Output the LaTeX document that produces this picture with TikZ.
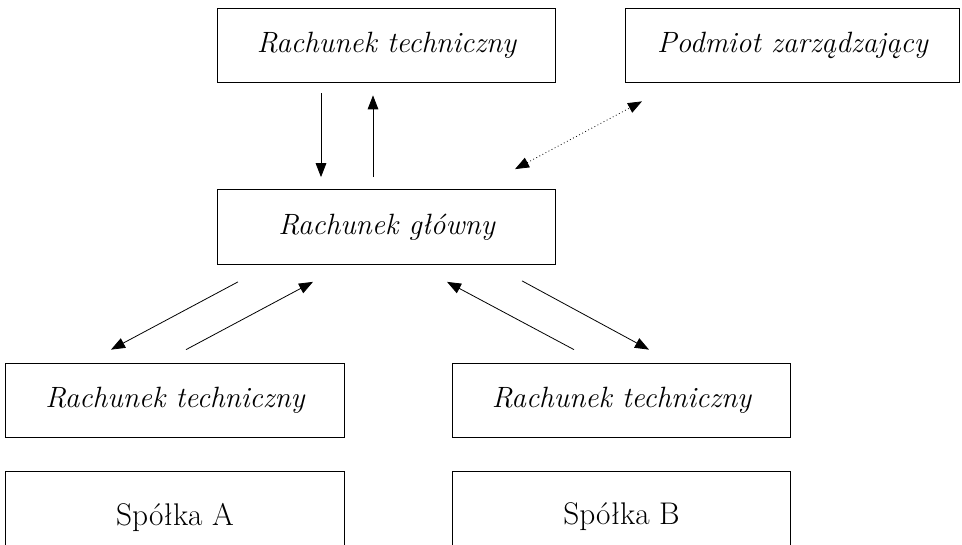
\documentclass[tikz,border=0pt]{standalone}
\usepackage{tikz}
\usetikzlibrary{positioning,arrows.meta,calc}

\tikzset{
  konto/.style={draw, line width=0.8pt, minimum width=254pt, minimum height=56pt, inner sep=0pt, font=\fontsize{22}{26}\selectfont\itshape},
  spolka/.style={konto, minimum height=68pt, font=\fontsize{23.5}{28}\selectfont},
  strz/.style={line width=0.6pt, -{Triangle[length=10.5pt,width=8pt]}},
  kropki/.style={line width=0.6pt, dotted, {Triangle[length=10.5pt,width=8pt]}-{Triangle[length=10.5pt,width=8pt]}}
}

\begin{document}
\begin{tikzpicture}[x=0.75pt,y=-0.75pt]
\useasboundingbox (0,0) rectangle (962,545);
% gorny rzad
\node[konto] (techTop) at (386.5,45.5) {Rachunek techniczny};
\node[konto, minimum width=251pt] (podmiot) at (792.5,45.5) {Podmiot zarządzający};
% srodek
\node[konto] (glowny) at (386.5,227) {Rachunek główny};
% dolne rachunki
\node[konto] (techA) at (175,400.5) {Rachunek techniczny};
\node[konto] (techB) at (621.5,400.5) {Rachunek techniczny};
\node[spolka] (spolkaA) at (175,517) {Spółka A};
\node[spolka] (spolkaB) at (621.5,517) {Spółka B};

% strzalki
\draw[strz] ($(techTop.south)+(-65.5,10)$) -- ($(glowny.north)+(-65.5,-12)$);
\draw[strz] ($(glowny.north)+(-13.5,-12)$) -- ($(techTop.south)+(-13.5,12)$);
\draw[kropki] ($(glowny.north)+(128.5,-20)$) -- ($(podmiot.south)+(-150.5,18)$);

\draw[strz] ($(glowny.south)+(-148.5,17)$) -- ($(techA.north)+(-64,-13)$);
\draw[strz] ($(techA.north)+(11,-13)$) -- ($(glowny.south)+(-73.5,17)$);
\draw[strz] ($(techB.north)+(-47.5,-13)$) -- ($(glowny.south)+(60.5,17)$);
\draw[strz] ($(glowny.south)+(135.5,16)$) -- ($(techB.north)+(27.5,-13)$);
\end{tikzpicture}
\end{document}
